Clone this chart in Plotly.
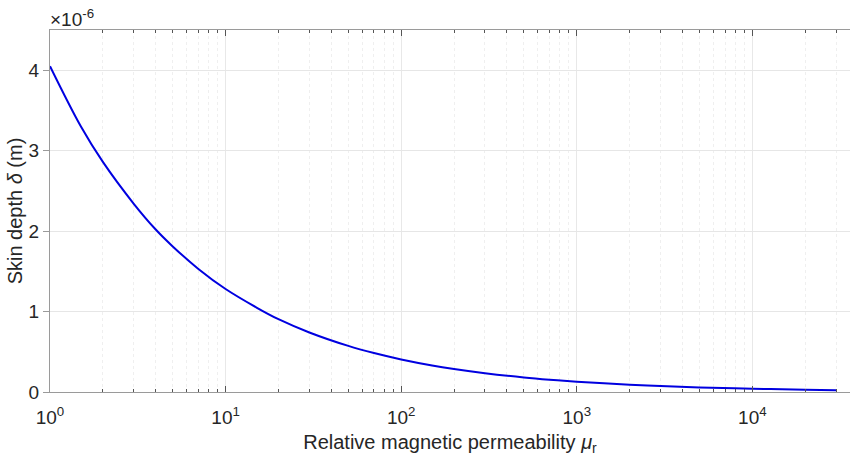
import plotly.graph_objects as go

# Values
mu_r = [1, 1.5, 2, 3, 4, 5, 7, 10, 15, 20, 30, 50, 70, 100, 150, 200, 300, 500,
        700, 1000, 2000, 3000, 5000, 10000, 20000, 30000]
delta_e6 = [4.05, 3.30, 2.86, 2.34, 2.02, 1.81, 1.53, 1.28, 1.05, 0.905, 0.74, 0.573,
            0.484, 0.405, 0.33, 0.286, 0.234, 0.181, 0.153, 0.128, 0.09, 0.074,
            0.057, 0.04, 0.029, 0.023]

x_tickvals = [1, 10, 100, 1000, 10000]
x_ticktext = ["10<sup>0</sup>", "10<sup>1</sup>", "10<sup>2</sup>", "10<sup>3</sup>", "10<sup>4</sup>"]
y_tickvals = [0, 1, 2, 3, 4]
y_ticktext = ["0", "1", "2", "3", "4"]

font = "Liberation Sans, Arial, sans-serif"
fs = 19
fig = go.Figure()
fig.add_trace(go.Scatter(x=mu_r, y=delta_e6, mode="lines",
                         line=dict(color="#0000e0", width=2, shape="spline"),
                         showlegend=False, hoverinfo="skip"))

fig.update_layout(
    width=850, height=462,
    margin=dict(l=50, r=0, t=30, b=70),
    paper_bgcolor="white", plot_bgcolor="white",
    font=dict(family=font, size=fs, color="#262626"),
    xaxis=dict(
        type="log", range=[0, 4.556],
        tickvals=x_tickvals, ticktext=x_ticktext,
        ticks="inside", ticklen=6, tickcolor="#555555",
        ticklabelstandoff=8,
        showline=True, linecolor="#9a9a9a", linewidth=1, mirror="allticks",
        showgrid=True, gridcolor="#e8e8e8", gridwidth=1,
        zeroline=False,
        tickfont=dict(size=fs, color="#262626"),
        minor=dict(ticks="inside", ticklen=3, tickcolor="#555555",
                   showgrid=True, gridcolor="#efefef", griddash="dot", gridwidth=1,
                   dtick="D1"),
        title=dict(text="Relative magnetic permeability <i>μ</i><sub>r</sub>",
                   font=dict(size=20, color="#262626"), standoff=8),
    ),
    yaxis=dict(
        range=[0, 4.5],
        tickvals=y_tickvals, ticktext=y_ticktext,
        ticks="outside", ticklen=6, tickcolor="#9a9a9a",
        showline=True, linecolor="#9a9a9a", linewidth=1, mirror=False,
        showgrid=True, gridcolor="#e6e6e6", gridwidth=1,
        zeroline=False,
        tickfont=dict(size=fs, color="#262626"),
        title=dict(text="Skin depth <i>δ</i> (m)",
                   font=dict(size=20, color="#262626"), standoff=0),
    ),
    annotations=[dict(text="×10<sup>-6</sup>", xref="paper", yref="paper",
                      x=0, y=1, xanchor="left", yanchor="bottom", showarrow=False,
                      font=dict(size=19, color="#262626"), xshift=-2, yshift=-2)],
)

fig.write_html("out.html")
